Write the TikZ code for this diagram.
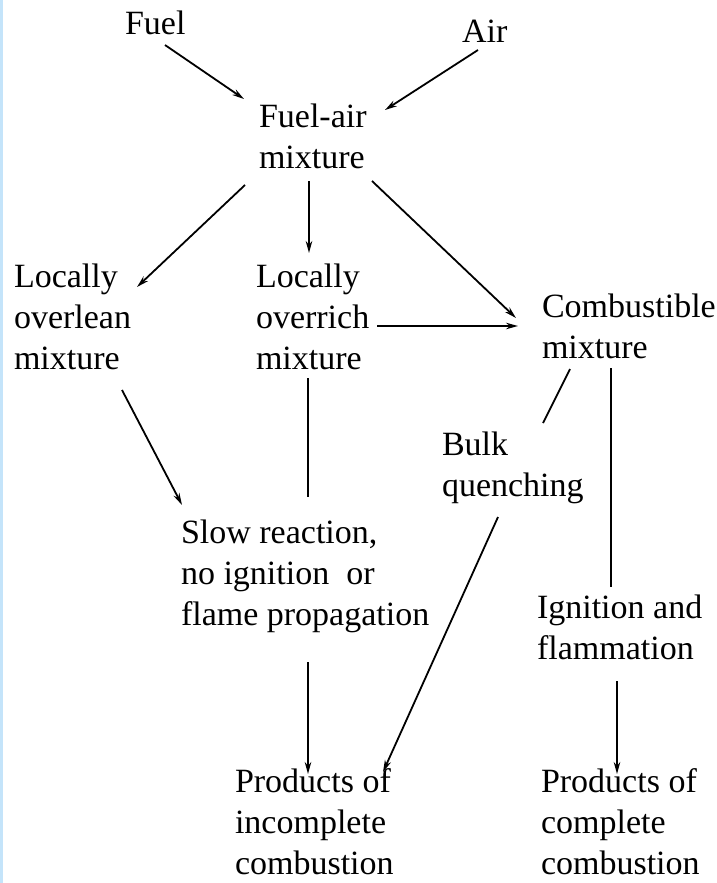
\documentclass[tikz,border=0pt]{standalone}
\usepackage{fontspec}
\setmainfont{Liberation Serif}
\usetikzlibrary{arrows.meta}
\definecolor{stripblue}{RGB}{196,228,250}
\begin{document}
\begin{tikzpicture}[x=1pt,y=-1pt,
  lbl/.style={inner sep=0pt,outer sep=0pt,anchor=north west,align=left,
    font=\fontsize{34}{41}\selectfont},
  arr/.style={line width=1.8pt,-{Stealth[length=12pt,width=6.5pt]}},
  ln/.style={line width=1.8pt}]
\useasboundingbox (0,0) rectangle (717,883);
\fill[white] (0,0) rectangle (717,883);
\fill[stripblue] (0,0) rectangle (3,883);
% nodes
\node[lbl] (fuel) at (125,11) {Fuel};
\node[lbl] (air) at (462,20) {Air};
\node[lbl] (fam) at (259,104) {Fuel-air\\mixture};
\node[lbl] (lean) at (14,264) {Locally\\overlean\\mixture};
\node[lbl] (rich) at (256,264) {Locally\\overrich\\mixture};
\node[lbl] (comb) at (542,294) {Combustible\\mixture};
\node[lbl] (bulk) at (442,432) {Bulk\\quenching};
\node[lbl] (slow) at (181,520) {Slow reaction,\\no ignition\ \ or\\flame propagation};
\node[lbl] (ign) at (537,595) {Ignition and\\flammation};
\node[lbl] (pinc) at (235,769) {Products of\\incomplete\\combustion};
\node[lbl] (pcom) at (541,769) {Products of\\complete\\combustion};
% connectors
\draw[arr] ([shift={(40,34)}]fuel.north west) -- ([shift={(-15,-5)}]fam.north west);
\draw[arr] ([shift={(16,30)}]air.north west) -- ([shift={(126,6)}]fam.north west);
\draw[arr] ([shift={(-14,81)}]fam.north west) -- ([shift={(123,23)}]lean.north west);
\draw[arr] ([shift={(50,77)}]fam.north west) -- ([shift={(53,-11)}]rich.north west);
\draw[arr] ([shift={(113,77)}]fam.north west) -- ([shift={(-26,24)}]comb.north west);
\draw[arr] ([shift={(121,62)}]rich.north west) -- ([shift={(-24,32)}]comb.north west);
\draw[arr] ([shift={(108,126)}]lean.north west) -- ([shift={(1,-15)}]slow.north west);
\draw[ln] ([shift={(52,114)}]rich.north west) -- ([shift={(127,-23)}]slow.north west);
\draw[ln] ([shift={(28,75)}]comb.north west) -- ([shift={(101,-9)}]bulk.north west);
\draw[arr] ([shift={(56,85)}]bulk.north west) -- ([shift={(148,3)}]pinc.north west);
\draw[ln] ([shift={(69,74)}]comb.north west) -- ([shift={(74,-8)}]ign.north west);
\draw[arr] ([shift={(127,142)}]slow.north west) -- ([shift={(73,5)}]pinc.north west);
\draw[arr] ([shift={(80,86)}]ign.north west) -- ([shift={(76,5)}]pcom.north west);
\end{tikzpicture}
\end{document}
